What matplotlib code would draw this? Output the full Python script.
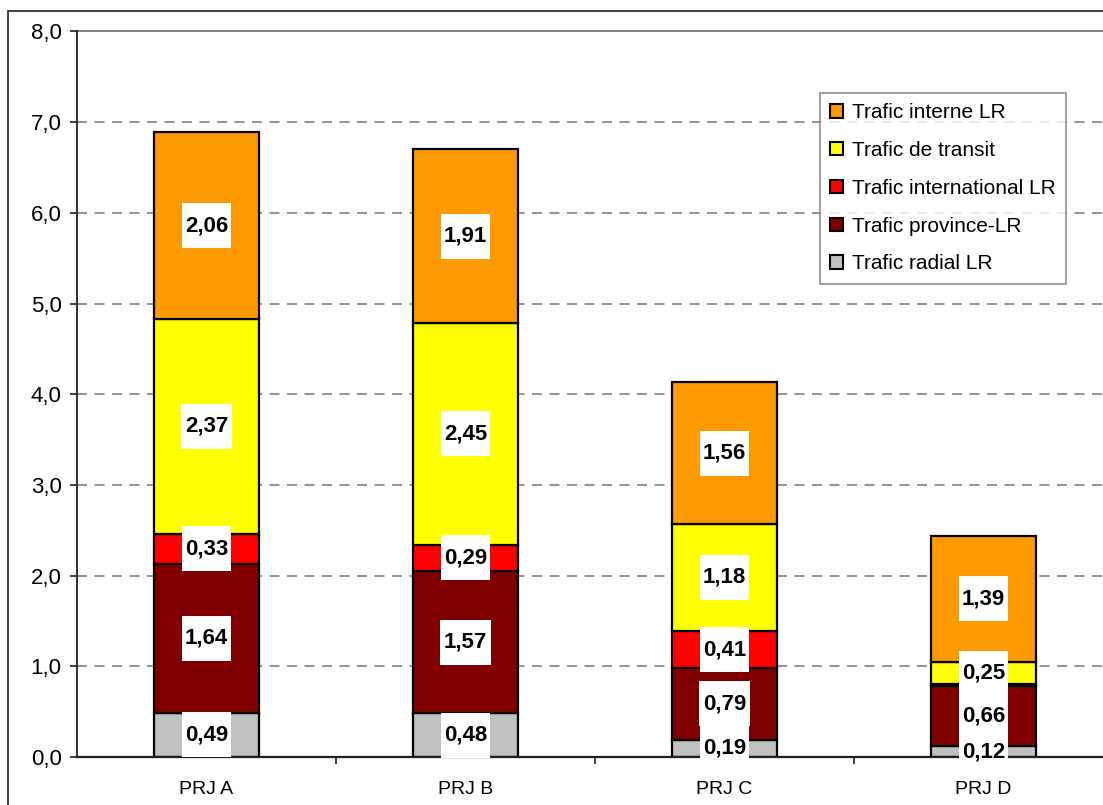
import matplotlib
matplotlib.use("Agg")
import matplotlib.pyplot as plt
import numpy as np
from matplotlib.path import Path
from matplotlib.patches import Rectangle

plt.rcParams['font.family'] = ['Liberation Sans', 'DejaVu Sans']

# ---- data ---------------------------------------------------------------
projects = ["PRJ A", "PRJ B", "PRJ C", "PRJ D"]
series_names = ["Trafic radial LR", "Trafic province-LR", "Trafic international LR",
                "Trafic de transit", "Trafic interne LR"]
radial = [0.49, 0.48, 0.19, 0.12]
province = [1.64, 1.57, 0.79, 0.66]
international = [0.33, 0.29, 0.41, 0.02]
transit = [2.37, 2.45, 1.18, 0.25]
interne = [2.06, 1.91, 1.56, 1.39]
series_colors = ["#C0C0C0", "#800000", "#FF0000", "#FFFF00", "#FF9900"]
y_ticks = [0.0, 1.0, 2.0, 3.0, 4.0, 5.0, 6.0, 7.0, 8.0]

series = [radial, province, international, transit, interne]

# ---- figure -------------------------------------------------------------
W, H = 1103, 805
fig = plt.figure(figsize=(W / 100, H / 100), dpi=100)
ax = fig.add_axes([77 / W, 1 - 757 / H, 1036 / W, (757 - 31.5) / H])

# outer chart frame
fig.patches.append(Rectangle((8 / W, -0.2), 1.2, 1.2 - 11 / H, transform=fig.transFigure,
                             fill=False, edgecolor="#303030", linewidth=1.3, zorder=0))

x = np.arange(len(projects))
bar_w = 0.405


def label_box(x0, y0, width, height, mutation_size):
    # white box, narrow at the sides and tall above/below the value
    px = 0.15 * mutation_size
    py = 0.54 * mutation_size
    x0, y0 = x0 - px, y0 - py
    x1, y1 = x0 + width + 2 * px, y0 + height + 2 * py
    return Path([(x0, y0), (x1, y0), (x1, y1), (x0, y1), (x0, y0)],
                [Path.MOVETO, Path.LINETO, Path.LINETO, Path.LINETO, Path.CLOSEPOLY])


bottom = np.zeros(len(projects))
for name, vals, col in zip(series_names, series, series_colors):
    vals = np.array(vals)
    ax.bar(x, vals, bar_w, bottom=bottom, color=col, edgecolor="black",
           linewidth=1.6, label=name, zorder=3)
    for xi, b, v in zip(x, bottom, vals):
        if v >= 0.05:
            ax.text(xi, b + v / 2, f"{v:.2f}".replace(".", ","), ha="center", va="center",
                    fontsize=16, fontweight="bold", color="black", zorder=6,
                    clip_on=False,
                    bbox=dict(boxstyle=label_box, facecolor="white", edgecolor="none"))
    bottom = bottom + vals

# ---- axes styling -------------------------------------------------------
ax.set_xlim(-0.5, 3.5)
ax.set_ylim(0, 8)
ax.set_yticks(y_ticks)
ax.set_yticklabels([f"{t:.1f}".replace(".", ",") for t in y_ticks])
ax.set_xticks(x)
ax.set_xticklabels(projects)
ax.set_xticks([0.5, 1.5, 2.5], minor=True)

for yv in y_ticks[1:-1]:
    ax.axhline(yv, color="#808080", linewidth=1.2, linestyle=(0, (6, 4.5)), zorder=1)
ax.axhline(8.0, color="#808080", linewidth=1.4, zorder=1, clip_on=False)

for s in ["top", "right"]:
    ax.spines[s].set_visible(False)
ax.spines["left"].set_color("#202020")
ax.spines["left"].set_linewidth(1.3)
ax.spines["bottom"].set_color("#202020")
ax.spines["bottom"].set_linewidth(1.6)
ax.spines["bottom"].set_zorder(4)

ax.tick_params(axis="y", direction="out", length=5, width=1.2, color="#202020",
               labelsize=16, pad=6)
ax.tick_params(axis="x", which="major", length=0, labelsize=14, pad=17)
ax.tick_params(axis="x", which="minor", direction="out", length=5, width=1.2, color="#202020")

# ---- legend -------------------------------------------------------------
handles, labels = ax.get_legend_handles_labels()
leg = fig.legend(handles[::-1], labels[::-1], loc="upper left",
                 bbox_to_anchor=(820 / W, 1 - 93 / H), bbox_transform=fig.transFigure,
                 fontsize=15, frameon=True, fancybox=False, shadow=False,
                 borderaxespad=0, borderpad=0.5, labelspacing=0.9,
                 handlelength=0.6, handleheight=0.6, handletextpad=0.45)
leg.get_frame().set_edgecolor("#808080")
leg.get_frame().set_linewidth(1.3)
for h in leg.legend_handles:
    h.set_linewidth(1.5)

fig.savefig("out.png", dpi=100)
